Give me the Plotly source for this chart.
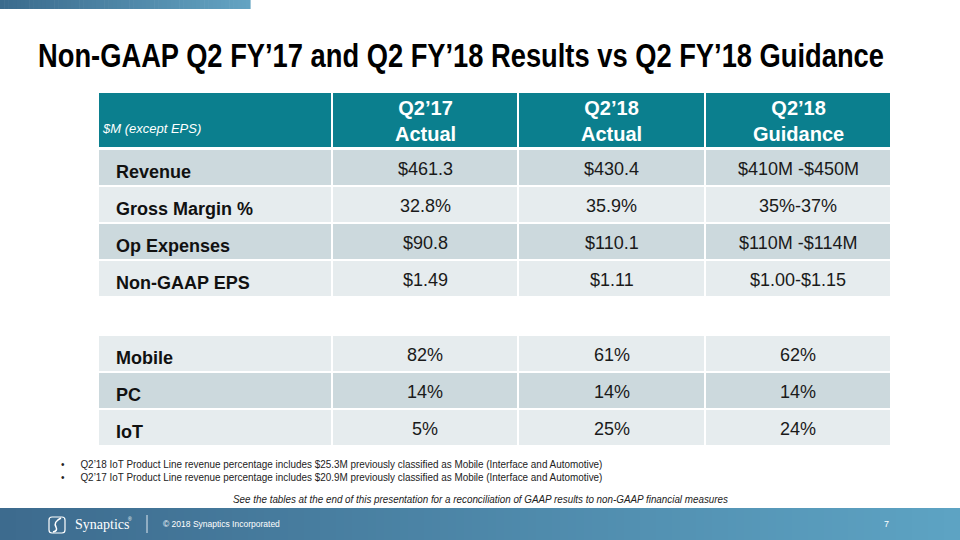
import json
import plotly.graph_objects as go

# ---------------- data ----------------
title = "Non-GAAP Q2 FY’17 and Q2 FY’18 Results vs Q2 FY’18 Guidance"
corner_label = "$M (except EPS)"
col_headers = ["Q2’17<br>Actual", "Q2’18<br>Actual", "Q2’18<br>Guidance"]

fin_labels = ["Revenue", "Gross Margin %", "Op Expenses", "Non-GAAP EPS"]
fin_q217 = ["$461.3", "32.8%", "$90.8", "$1.49"]
fin_q218 = ["$430.4", "35.9%", "$110.1", "$1.11"]
fin_guid = ["$410M -$450M", "35%-37%", "$110M -$114M", "$1.00-$1.15"]

pl_labels = ["Mobile", "PC", "IoT"]
pl_q217 = ["82%", "14%", "5%"]
pl_q218 = ["61%", "14%", "25%"]
pl_guid = ["62%", "14%", "24%"]

footnotes = [
    "Q2’18 IoT Product Line revenue percentage includes $25.3M previously classified as Mobile (Interface and Automotive)",
    "Q2’17 IoT Product Line revenue percentage includes $20.9M previously classified as Mobile (Interface and Automotive)",
]
recon_note = "See the tables at the end of this presentation for a reconciliation of GAAP results to non-GAAP financial measures"
footer_text = "© 2018 Synaptics Incorporated"
page_no = "7"

# ---------------- styling / layout ----------------
W, H = 960, 540
SANS = "Liberation Sans, Arial, sans-serif"
HEADER_FILL = "#0b7f8e"
DARK_FILL = "#ccd9dd"
LIGHT_FILL = "#e6ecee"
col_edges = [99, 333, 519, 706, 892]
GAP = 2
header_top, header_h = 93, 54
row_pitch, row_h = 37, 35
block1_top = 150
block2_top = 336

shapes = []
annotations = []
condense = []  # (text, target width px, pivot) -> emulate narrow typeface


def lerp_color(c1, c2, t):
    a = [int(c1[i:i + 2], 16) for i in (1, 3, 5)]
    b = [int(c2[i:i + 2], 16) for i in (1, 3, 5)]
    return "#%02x%02x%02x" % tuple(round(a[k] + (b[k] - a[k]) * t) for k in range(3))


def gradient_bar(x0, x1, y0, y1, c1, c2, n=60):
    step = (x1 - x0) / n
    for i in range(n):
        shapes.append(dict(type="rect", xref="x", yref="y",
                           x0=x0 + i * step, x1=x0 + (i + 1) * step + 0.6,
                           y0=y0, y1=y1, line=dict(width=0),
                           fillcolor=lerp_color(c1, c2, i / (n - 1)), layer="below"))


def cell(ci, y0, h, fill):
    shapes.append(dict(type="rect", xref="x", yref="y",
                       x0=col_edges[ci], x1=col_edges[ci + 1] - GAP,
                       y0=y0, y1=y0 + h, line=dict(width=0), fillcolor=fill, layer="below"))


def text(x, y, s, size, color="#000000", family=SANS, xanchor="center", **kw):
    annotations.append(dict(x=x, y=y, xref="x", yref="y", text=s, showarrow=False,
                            xanchor=xanchor, yanchor="middle",
                            font=dict(size=size, color=color, family=family), **kw))


# top accent bar
gradient_bar(0, 250, 0, 9, "#3b6b8d", "#63a3c2")

# title
text(36, 55, "<b>%s</b>" % title, 34, xanchor="left")
condense.append((title, 846, "left"))

# header row
for ci in range(4):
    cell(ci, header_top, header_h, HEADER_FILL)
text(100, header_top + 35, "<i>%s</i>" % corner_label, 13, color="#ffffff", xanchor="left")
for ci, h in enumerate(col_headers):
    cx = (col_edges[ci + 1] + col_edges[ci + 2] - GAP) / 2
    text(cx, header_top + header_h / 2 + 1, "<b>%s</b>" % h, 20, color="#ffffff")


def block(top, labels, c1, c2, c3, dark_first):
    for r, lab in enumerate(labels):
        y0 = top + r * row_pitch
        fill = DARK_FILL if (r % 2 == 0) == dark_first else LIGHT_FILL
        for ci in range(4):
            cell(ci, y0, row_h, fill)
        text(114, y0 + row_h / 2 + 4, "<b>%s</b>" % lab, 18, xanchor="left", color="#111111")
        for ci, vals in enumerate([c1, c2, c3]):
            cx = (col_edges[ci + 1] + col_edges[ci + 2] - GAP) / 2
            text(cx, y0 + row_h / 2 + 1, vals[r], 18, color="#1a1a1a")


block(block1_top, fin_labels, fin_q217, fin_q218, fin_guid, True)
block(block2_top, pl_labels, pl_q217, pl_q218, pl_guid, False)

# footnotes
for i, fn in enumerate(footnotes):
    y = 464 + i * 13
    text(63, y, "•", 10, color="#222222")
    text(78, y, fn, 11.5, color="#222222", xanchor="left")
    condense.append((fn, 523, "left"))
text(480, 499, "<i>%s</i>" % recon_note, 11.5, color="#222222")
condense.append((recon_note, 496, "center"))

# footer
gradient_bar(0, W, 508, H, "#3d6b8e", "#5da3c3", n=120)
shapes.append(dict(type="path", xref="x", yref="y",
                   path="M 52 517 L 62 517 Q 65 517 65 520 L 65 530 Q 65 533 62 533 L 52 533 Q 49 533 49 530 L 49 520 Q 49 517 52 517 Z",
                   line=dict(color="#ffffff", width=1.2), fillcolor="rgba(0,0,0,0)"))
shapes.append(dict(type="path", xref="x", yref="y",
                   path="M 61 518 Q 53 522 56 527 Q 58 531 53 532",
                   line=dict(color="#ffffff", width=1.5)))
text(73, 524, "Synaptics", 14, color="#ffffff", family="Liberation Serif, Times New Roman, serif", xanchor="left")
text(126, 519, "®", 5, color="#ffffff", xanchor="left")
shapes.append(dict(type="line", xref="x", yref="y", x0=147, x1=147, y0=515, y1=533,
                   line=dict(color="#dfe9f0", width=1)))
text(161, 524, footer_text, 8.5, color="#ffffff", xanchor="left")
text(886, 524, page_no, 9, color="#ffffff")

fig = go.Figure()
fig.update_layout(
    width=W, height=H,
    margin=dict(l=0, r=0, t=0, b=0),
    paper_bgcolor="#ffffff", plot_bgcolor="#ffffff",
    xaxis=dict(range=[0, W], visible=False, fixedrange=True),
    yaxis=dict(range=[H, 0], visible=False, fixedrange=True),
    shapes=shapes, annotations=annotations, showlegend=False,
)

# remove the default page margin and horizontally condense selected texts
# (emulates the narrow typeface of the original slide)
post_js = """
document.body.style.margin = '0';
(function(){
  var items = %s;
  document.querySelectorAll('text.annotation-text').forEach(function(t){
    items.forEach(function(it){
      if (t.textContent === it[0]) {
        var bb = t.getBBox();
        var s = it[1] / bb.width;
        var px = it[2] === 'left' ? bb.x : bb.x + bb.width / 2;
        var prev = t.getAttribute('transform') || '';
        t.setAttribute('transform', prev + ' translate(' + px + ',0) scale(' + s + ',1) translate(' + (-px) + ',0)');
      }
    });
  });
})();
""" % json.dumps(condense)

fig.write_html("out.html", post_script=post_js, config={"displayModeBar": False})
